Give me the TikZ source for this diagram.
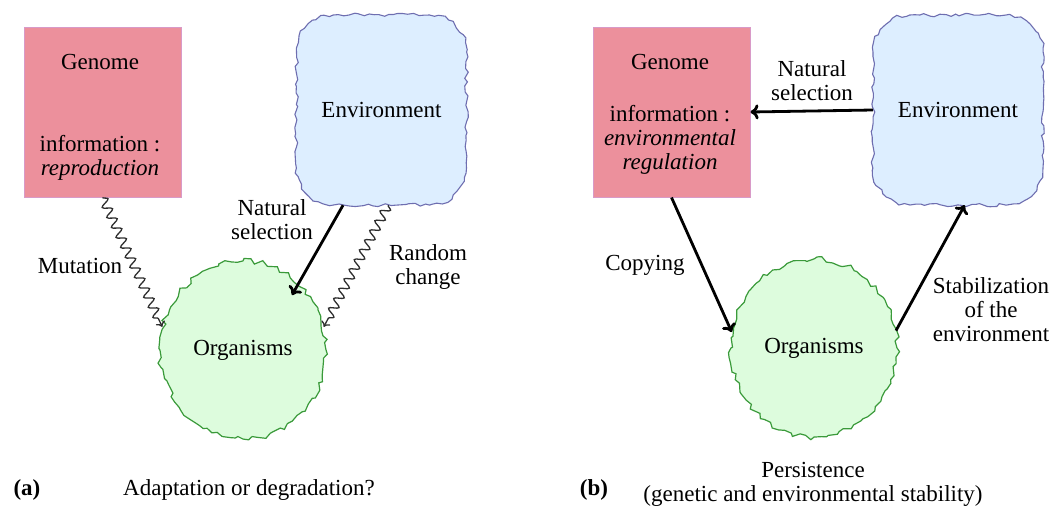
\documentclass[tikz,border=0pt]{standalone}
\usepackage{fontspec}
\setmainfont{LiberationSerif}[Extension=.ttf,
  UprightFont=*-Regular, BoldFont=*-Bold,
  ItalicFont=*-Italic, BoldItalicFont=*-BoldItalic]
\usetikzlibrary{decorations.pathmorphing,calc,arrows.meta,shapes.geometric}

\definecolor{genfill}{HTML}{EC909C}
\definecolor{genline}{HTML}{D89AC8}
\definecolor{envfill}{HTML}{DDEEFF}
\definecolor{envline}{HTML}{6E6EB0}
\definecolor{orgfill}{HTML}{DDFCDD}
\definecolor{orgline}{HTML}{3A9A3A}
\definecolor{wavegray}{HTML}{2E2E2E}

% rounded square with a ragged outline, centred on (#1,#2)
\newcommand\envblob[2]{%
  \filldraw[blobline]
    (#1-48,#2-95) -- (#1+48,#2-95)
    arc[start angle=270,end angle=360,radius=37] -- (#1+85,#2+58)
    arc[start angle=0,end angle=90,radius=37] -- (#1-48,#2+95)
    arc[start angle=90,end angle=180,radius=37] -- (#1-85,#2-58)
    arc[start angle=180,end angle=270,radius=37] -- cycle;}

\begin{document}
\begin{tikzpicture}[x=1pt,y=-1pt,
  every node/.style={font=\fontsize{23}{24}\selectfont, align=center, inner sep=0pt},
  genbox/.style={draw=genline, fill=genfill, line width=1pt,
    minimum width=157pt, minimum height=170pt},
  envbox/.style={minimum width=170pt, minimum height=190pt},
  blobline/.style={draw=envline, fill=envfill, line width=1.1pt,
    decorate, decoration={random steps, segment length=5pt, amplitude=1.8pt}},
  orgbox/.style={ellipse, draw=orgline, fill=orgfill, line width=1.2pt,
    minimum width=166pt, minimum height=178pt, decorate,
    decoration={random steps, segment length=5.5pt, amplitude=2.6pt}},
  selarrow/.style={-{To[length=8pt,width=15pt]}, line width=2.8pt, black},
  wavyarrow/.style={-{To[length=5pt,width=10pt]}, wavegray, line width=1.3pt, decorate,
    decoration={snake, segment length=11pt, amplitude=4.5pt, post length=7pt}}
]
\pgfmathsetseed{7}
\useasboundingbox (0,0) rectangle (1053,509);

% ---------- (a) ----------
\node[genbox] (genA) at (102.5,112) {};
\node (genAt) at (100,62) {Genome};
\node (genAi) at (100,158) {information :\\\textit{reproduction}};

\envblob{381.5}{110}
\node[envbox] (envA) at (381.5,110) {Environment};

\node[orgbox] (orgA) at (243,350) {Organisms};

\draw[wavyarrow] (genA.south) -- (orgA.164);
\draw[wavyarrow] (envA.274) -- (orgA.16);
\draw[selarrow] (envA.248) -- ($(orgA.center)+(49,-55)$);

\node (mutA) at (80,266) {Mutation};
\node (natA) at (272,220) {Natural\\selection};
\node (rndA) at (428,267) {Random\\change};

\node (labA) at (27,490) {\textbf{(a)}};
\node (capA) at (249,490) {Adaptation or degradation?};

% ---------- (b) ----------
\node[genbox] (genB) at (671.5,112) {};
\node (genBt) at (670,62) {Genome};
\node (genBi) at (670,140) {information :\\\textit{environmental}\\\textit{regulation}};

\envblob{958}{110}
\node[envbox] (envB) at (958,110) {Environment};

\node[orgbox] (orgB) at (814,348) {Organisms};

\draw[selarrow] (envB.west) -- (genB.east);
\draw[selarrow] (genB.south) -- (orgB.169);
\draw[selarrow] (orgB.12) -- (envB.274);

\node (natB) at (812,81) {Natural\\selection};
\node (copB) at (645,265) {Copying};
\node (stbB) at (991,310) {Stabilization\\of the\\environment};

\node (labB) at (594,490) {\textbf{(b)}};
\node (capB) at (813,484) {Persistence\\(genetic and environmental stability)};
\end{tikzpicture}
\end{document}
